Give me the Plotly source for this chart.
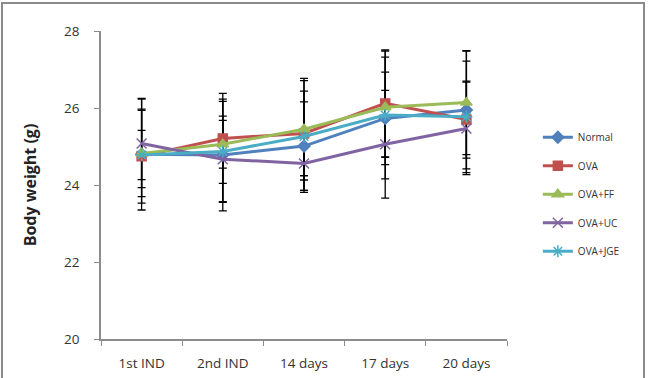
import plotly.graph_objects as go

categories = ["1st IND", "2nd IND", "14 days", "17 days", "20 days"]

normal = [24.80, 24.78, 25.01, 25.73, 25.95]
ova = [24.75, 25.21, 25.34, 26.12, 25.70]
ova_ff = [24.82, 25.06, 25.45, 26.02, 26.14]
ova_uc = [25.08, 24.67, 24.56, 25.06, 25.47]
ova_jge = [24.78, 24.87, 25.26, 25.82, 25.77]

err_normal = [1.45, 1.45, 1.15, 1.20, 1.53]
err_ova = [1.22, 1.17, 1.10, 1.39, 1.00]
err_ova_ff = [1.12, 0.62, 1.32, 1.30, 1.35]
err_ova_uc = [1.15, 1.12, 0.70, 1.40, 1.20]
err_ova_jge = [0.64, 1.30, 1.45, 1.66, 1.45]

series = [
    ("Normal", normal, err_normal, "#4F81BD", "diamond", 9),
    ("OVA", ova, err_ova, "#C0504D", "square", 9),
    ("OVA+FF", ova_ff, err_ova_ff, "#9BBB59", "triangle-up", 10),
    ("OVA+UC", ova_uc, err_ova_uc, "#8064A2", "x-thin-open", 10),
    ("OVA+JGE", ova_jge, err_ova_jge, "#4BACC6", "asterisk-open", 10),
]

FONT = "Open Sans"
fig = go.Figure()

# error bars first (behind lines)
for name, vals, errs, color, sym, size in series:
    fig.add_trace(go.Scatter(
        x=categories, y=vals, mode="markers",
        marker=dict(size=1, opacity=0),
        error_y=dict(type="data", array=errs, visible=True,
                     color="black", thickness=1.3, width=4),
        showlegend=False, hoverinfo="skip",
    ))

for i, (name, vals, errs, color, sym, size) in enumerate(series):
    fig.add_trace(go.Scatter(
        x=categories, y=vals, mode="lines+markers", name=name,
        legendgroup=name,
        line=dict(color=color, width=3),
        marker=dict(symbol=sym, size=size, color=color,
                    line=dict(color=color, width=1.5)),
    ))

fig.update_layout(
    width=648, height=378,
    margin=dict(l=101, r=141, t=31, b=39),
    paper_bgcolor="white", plot_bgcolor="white",
    font=dict(family=FONT, color="#333333"),
    showlegend=True,
    legend=dict(x=1.076, y=0.702, xanchor="left", yanchor="top",
                font=dict(family=FONT, size=10, color="#333333"),
                itemwidth=30, tracegroupgap=9.5, bgcolor="rgba(0,0,0,0)"),
    xaxis=dict(
        type="category", range=[-0.5, 4.5], automargin=False,
        showline=True, linecolor="#8c8c8c", linewidth=1.5,
        ticks="outside", tickson="boundaries", ticklen=5, tickcolor="#8c8c8c",
        showgrid=False, zeroline=False, ticklabelstandoff=11,
        tickfont=dict(family=FONT, size=13.5, color="#333333"),
    ),
    yaxis=dict(
        range=[20, 28], dtick=2, tick0=20, automargin=False,
        showline=True, linecolor="#8c8c8c", linewidth=1.5,
        ticks="outside", ticklen=5, tickcolor="#8c8c8c",
        showgrid=False, zeroline=False, ticklabelstandoff=12,
        tickfont=dict(family=FONT, size=13.5, color="#333333"),
        title=dict(text="<b>Body weight (g)</b>",
                   font=dict(family=FONT, size=16, color="#222222"),
                   standoff=23),
    ),
)

# outer chart border
fig.add_shape(type="rect", xref="paper", yref="paper",
              x0=(2 - 101) / 406, x1=(644 - 101) / 406,
              y0=(339 - 390) / 308, y1=(339 - 3) / 308,
              line=dict(color="#8a8a8a", width=2), fillcolor="rgba(0,0,0,0)",
              layer="above")

fig.write_html("out.html")
